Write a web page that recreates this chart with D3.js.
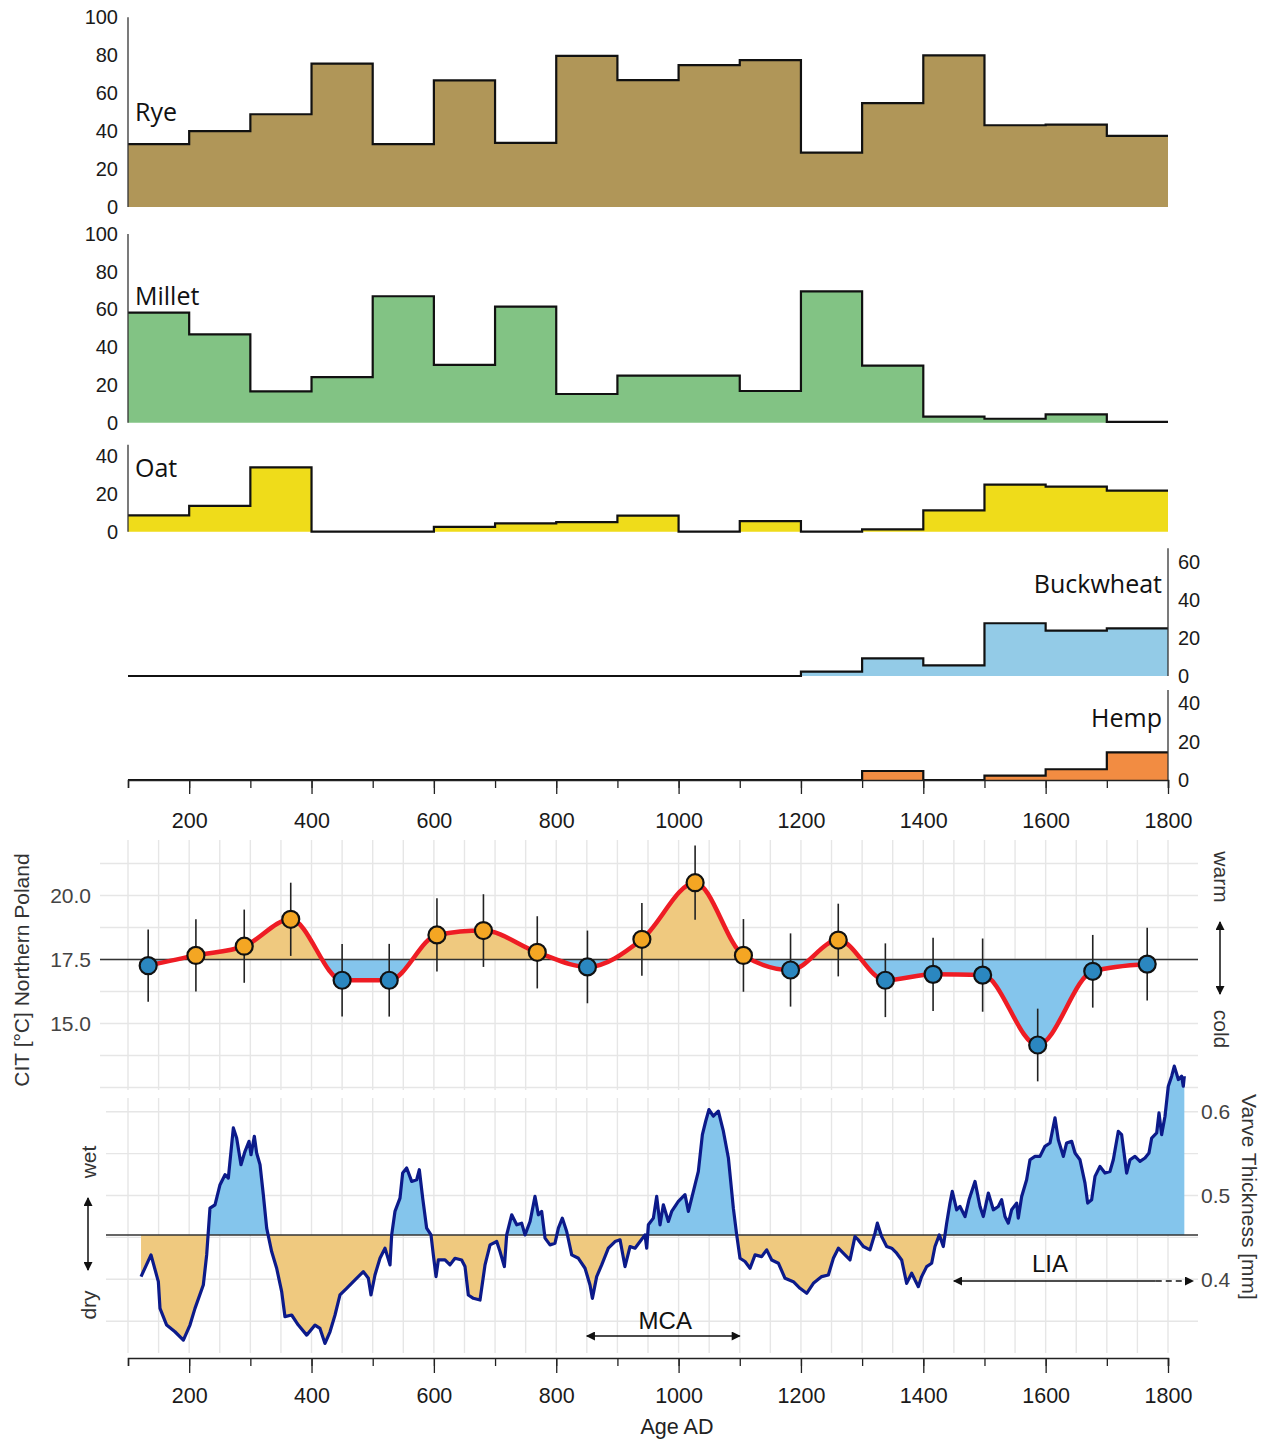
<!DOCTYPE html>
<html><head><meta charset="utf-8">
<script src="https://cdn.jsdelivr.net/npm/d3@7"></script>
<style>body{margin:0;background:#fff}svg{display:block}</style>
</head><body><svg id="c" width="1274" height="1447"></svg>
<script>
// ---------------- DATA ----------------
const binStarts = [100,200,300,400,500,600,700,800,900,1000,1100,1200,1300,1400,1500,1600,1700];
const binEnd = 1800;
const rye       = [33.1,40,48.9,75.6,33.1,66.7,33.8,79.7,66.9,74.8,77.4,28.7,54.8,79.9,43.1,43.4,37.5];
const millet    = [58.3,46.8,16.6,24.2,67,30.6,61.5,15.2,24.9,24.9,16.8,69.6,30.2,3.2,2.1,4.4,0.4];
const oat       = [8.6,13.6,34,0,0,2.6,4.4,5.1,8.5,0,5.6,0,1.2,11.3,24.9,23.8,21.7];
const buckwheat = [0,0,0,0,0,0,0,0,0,0,0,2.3,9.3,5.6,27.7,23.8,25.0];
const hemp      = [0,0,0,0,0,0,0,0,0,0,0,0,4.7,0,2.3,5.6,14.4];
const xTicks = [100,200,300,400,500,600,700,800,900,1000,1100,1200,1300,1400,1500,1600,1700,1800];
const xLabels = [200,400,600,800,1000,1200,1400,1600,1800];

const citYears = [133,211,290,366,450,527,605,681,769,851,940,1027,1106,1183,1261,1338,1416,1497,1587,1677,1766];
const citTemp  = [17.26,17.66,18.02,19.07,16.69,16.69,18.46,18.63,17.78,17.21,18.29,20.5,17.66,17.09,18.26,16.69,16.92,16.89,14.16,17.04,17.32];
const citErr   = [1.41,1.41,1.43,1.43,1.42,1.42,1.43,1.42,1.41,1.42,1.42,1.45,1.42,1.43,1.42,1.44,1.43,1.43,1.42,1.42,1.42];
const citRef = 17.5;
const citTicks = [15,17.5,20];
const citGrid = [12.5,13.75,15,16.25,17.5,18.75,20,21.25];

const varveYears = [121.3,137.6,149.6,152.3,163.2,176.8,190.5,201.3,209.5,223.1,228.6,234.0,242.2,250.4,258.6,264.0,272.2,277.6,284.7,291.3,297.8,301.1,306.5,310.3,315.8,321.2,326.7,334.8,343.0,351.2,356.6,367.5,378.4,392.1,405.7,413.8,422.0,430.2,438.4,446.5,457.4,471.1,484.7,492.9,497.2,503.7,511.9,520.1,528.3,531.0,536.4,544.6,549.0,555.5,563.7,571.9,576.2,581.7,588.2,595.3,599.1,603.5,607.3,618.2,626.3,634.5,645.4,650.9,656.3,664.5,675.4,683.6,691.8,702.7,708.1,715.2,719.0,727.2,735.4,743.5,749.0,757.2,765.3,770.8,776.2,781.7,789.8,798.0,803.5,810.0,817.1,825.3,836.2,847.1,855.2,859.1,866.1,874.3,885.2,896.1,904.3,912.4,920.6,928.8,937.0,945.1,947.9,950.6,958.8,964.2,969.7,975.1,983.3,988.7,999.6,1010.5,1016.0,1026.9,1032.3,1038.9,1044.3,1049.7,1056.8,1065.0,1073.2,1081.4,1089.5,1095.0,1100.4,1108.6,1116.8,1125.0,1135.8,1144.0,1152.2,1163.1,1174.0,1187.6,1198.5,1209.4,1220.3,1233.9,1244.8,1253.0,1261.2,1272.0,1280.2,1288.3,1293.8,1302.0,1312.9,1321.0,1324.9,1331.9,1340.1,1348.3,1356.5,1364.6,1372.8,1381.0,1391.9,1397.3,1405.5,1413.7,1419.1,1426.2,1432.7,1438.2,1443.6,1447.4,1454.5,1460.0,1468.2,1474.7,1484.5,1492.7,1498.1,1506.3,1514.5,1522.6,1528.1,1533.5,1539.0,1544.4,1552.6,1555.3,1560.8,1568.9,1574.4,1582.6,1590.7,1598.9,1607.1,1615.3,1620.7,1628.9,1634.3,1642.5,1648.0,1656.1,1664.3,1668.7,1675.2,1680.7,1688.8,1697.0,1705.2,1710.6,1718.8,1724.2,1732.4,1737.9,1746.0,1754.2,1762.4,1768.9,1773.3,1781.5,1785.3,1789.6,1795.1,1800.5,1806.0,1810.3,1816.9,1822.3,1825.0,1826.7];
const varveVals = [0.4032,0.4291,0.3972,0.3653,0.3454,0.3374,0.3275,0.3454,0.3653,0.3932,0.4291,0.4849,0.4889,0.5129,0.5248,0.5208,0.5806,0.5687,0.5368,0.5527,0.5647,0.5487,0.5707,0.5507,0.5368,0.5009,0.4610,0.4331,0.4132,0.3853,0.3554,0.3574,0.3454,0.3334,0.3454,0.3414,0.3235,0.3374,0.3574,0.3813,0.3893,0.3992,0.4092,0.4012,0.3813,0.4052,0.4251,0.4371,0.4172,0.4530,0.4810,0.4969,0.5268,0.5328,0.5168,0.5188,0.5308,0.4969,0.4610,0.4530,0.4291,0.4032,0.4231,0.4231,0.4172,0.4251,0.4231,0.4152,0.3813,0.3773,0.3753,0.4172,0.4411,0.4451,0.4331,0.4152,0.4530,0.4770,0.4650,0.4670,0.4530,0.4690,0.4989,0.4770,0.4810,0.4491,0.4411,0.4431,0.4610,0.4730,0.4570,0.4291,0.4251,0.4132,0.3932,0.3773,0.4032,0.4172,0.4371,0.4451,0.4471,0.4152,0.4391,0.4371,0.4451,0.4530,0.4371,0.4650,0.4730,0.4989,0.4650,0.4889,0.4690,0.4810,0.4929,0.5009,0.4810,0.5129,0.5288,0.5727,0.5886,0.6026,0.5946,0.6006,0.5767,0.5448,0.4849,0.4530,0.4251,0.4212,0.4132,0.4291,0.4271,0.4351,0.4231,0.4192,0.4012,0.3972,0.3893,0.3833,0.3952,0.4032,0.4052,0.4251,0.4371,0.4291,0.4231,0.4510,0.4470,0.4391,0.4351,0.4550,0.4670,0.4510,0.4391,0.4371,0.4311,0.4231,0.3952,0.4072,0.3912,0.4032,0.4151,0.4191,0.4391,0.4530,0.4391,0.4670,0.4909,0.5049,0.4829,0.4869,0.4749,0.4949,0.5168,0.4869,0.4749,0.5029,0.4829,0.4869,0.4949,0.4749,0.4670,0.4829,0.4909,0.4730,0.4989,0.5188,0.5427,0.5467,0.5467,0.5587,0.5627,0.5926,0.5666,0.5467,0.5627,0.5647,0.5507,0.5427,0.5148,0.4909,0.4949,0.5228,0.5348,0.5268,0.5288,0.5427,0.5766,0.5726,0.5268,0.5427,0.5467,0.5407,0.5447,0.5507,0.5686,0.5746,0.5986,0.5726,0.5946,0.6304,0.6424,0.6544,0.6384,0.6424,0.6304,0.6424];
const varveRef = 0.453;
const varveTicks = [0.4,0.5,0.6];
const varveGrid = [0.35,0.4,0.45,0.5,0.55,0.6];
const periods = [{name:"MCA", from:850, to:1100, dashFrom:null},{name:"LIA", from:1450, to:1841, dashFrom:1780}];

// ---------------- DRAW ----------------
const svg = d3.select("#c");
svg.append("rect").attr("width",1274).attr("height",1447).attr("fill","#fff");
const x = d3.scaleLinear().domain([100,1800]).range([128,1168]);
const tickFont = "'Liberation Sans', Arial, sans-serif";
const labFont = "'Open Sans', sans-serif";

const defs = svg.append("defs");
function marker(id, color){
  defs.append("marker").attr("id",id).attr("viewBox","0 0 10 10").attr("refX",9).attr("refY",5)
    .attr("markerWidth",12).attr("markerHeight",9).attr("markerUnits","userSpaceOnUse").attr("orient","auto-start-reverse")
    .append("path").attr("d","M0,0 L10,5 L0,10 Z").attr("fill",color);
}
marker("ah","#111");

const panels = [
  {name:"Rye", vals:rye, color:"#b09658", y0:207, y1:17.3, max:100, ticks:[0,20,40,60,80,100], top:100, side:"left", lx:135, ly:121, anchor:"start"},
  {name:"Millet", vals:millet, color:"#82c384", y0:422.7, y1:234, max:100, ticks:[0,20,40,60,80,100], top:100, side:"left", lx:135, ly:305, anchor:"start"},
  {name:"Oat", vals:oat, color:"#efdc1a", y0:531.7, y1:456, max:40, ticks:[0,20,40], top:46, side:"left", lx:135, ly:477, anchor:"start"},
  {name:"Buckwheat", vals:buckwheat, color:"#93cbe7", y0:676, y1:561.7, max:60, ticks:[0,20,40,60], top:67, side:"right", lx:1162, ly:593, anchor:"end"},
  {name:"Hemp", vals:hemp, color:"#f28c42", y0:780, y1:703.3, max:40, ticks:[0,20,40], top:47, side:"right", lx:1162, ly:727, anchor:"end"}
];

panels.forEach(p=>{
  const y = d3.scaleLinear().domain([0,p.max]).range([p.y0,p.y1]);
  const pts = binStarts.map((s,i)=>[s,p.vals[i]]).concat([[binEnd,p.vals[p.vals.length-1]]]);
  const g = svg.append("g");
  g.append("path").datum(pts).attr("fill",p.color)
    .attr("d", d3.area().curve(d3.curveStepAfter).x(d=>x(d[0])).y0(y(0)).y1(d=>y(d[1])));
  g.append("path").datum(pts).attr("fill","none").attr("stroke","#111").attr("stroke-width",2.2)
    .attr("d", d3.line().curve(d3.curveStepAfter).x(d=>x(d[0])).y(d=>y(d[1])));
  const ax = p.side==="left" ? d3.axisLeft(y) : d3.axisRight(y);
  ax.tickValues(p.ticks).tickSize(0).tickPadding(10);
  const ag = g.append("g").attr("transform",`translate(${p.side==="left"?128:1168},0)`).call(ax);
  ag.select(".domain").remove();
  ag.selectAll("text").attr("font-family",tickFont).attr("font-size",20).attr("fill","#1a1a1a");
  g.append("line").attr("x1",p.side==="left"?128:1168).attr("x2",p.side==="left"?128:1168)
    .attr("y1",y(0)).attr("y2",y(p.top)).attr("stroke","#333").attr("stroke-width",1.3);
  g.append("text").attr("x",p.lx).attr("y",p.ly).attr("text-anchor",p.anchor)
    .attr("font-family",labFont).attr("font-size",25).attr("fill","#111").text(p.name);
});

function xAxis(yPos, majorLen, minorLen, pad){
  const gMin = svg.append("g").attr("transform",`translate(0,${yPos})`)
    .call(d3.axisBottom(x).tickValues(xTicks).tickSize(minorLen).tickFormat(""));
  gMin.select(".domain").attr("stroke","#222").attr("stroke-width",1.5);
  gMin.selectAll("line").attr("stroke","#222").attr("stroke-width",1.3);
  const gMaj = svg.append("g").attr("transform",`translate(0,${yPos})`)
    .call(d3.axisBottom(x).tickValues(xLabels).tickSize(majorLen).tickPadding(pad).tickFormat(d3.format("d")));
  gMaj.select(".domain").remove();
  gMaj.selectAll("line").attr("stroke","#222").attr("stroke-width",1.3);
  gMaj.selectAll("text").attr("font-family",tickFont).attr("font-size",21.5).attr("fill","#1a1a1a");
}
xAxis(780, 14, 8, 19);

// ---------------- CIT panel ----------------
const yC = d3.scaleLinear().domain([15,20]).range([1023.5,895.5]);
const gridYears = d3.range(100,1801,50);
const gC = svg.append("g");
gC.selectAll("line.v").data(gridYears).join("line")
  .attr("x1",d=>x(d)).attr("x2",d=>x(d)).attr("y1",840).attr("y2",1090)
  .attr("stroke","#e6e6e6").attr("stroke-width",1.4);
gC.selectAll("line.h").data(citGrid).join("line")
  .attr("x1",100).attr("x2",1198).attr("y1",d=>yC(d)).attr("y2",d=>yC(d))
  .attr("stroke","#e6e6e6").attr("stroke-width",1.4);

const citPts = citYears.map((yr,i)=>[yr,citTemp[i]]);
defs.append("clipPath").attr("id","cAbove").append("rect").attr("x",0).attr("y",830).attr("width",1274).attr("height",yC(citRef)-830);
defs.append("clipPath").attr("id","cBelow").append("rect").attr("x",0).attr("y",yC(citRef)).attr("width",1274).attr("height",1095-yC(citRef));
const citArea = d3.area().curve(d3.curveMonotoneX).x(d=>x(d[0])).y0(yC(citRef)).y1(d=>yC(d[1]));
gC.append("path").datum(citPts).attr("d",citArea).attr("fill","#efc97f").attr("clip-path","url(#cAbove)");
gC.append("path").datum(citPts).attr("d",citArea).attr("fill","#84c5ec").attr("clip-path","url(#cBelow)");
gC.append("line").attr("x1",100).attr("x2",1198).attr("y1",yC(citRef)).attr("y2",yC(citRef)).attr("stroke","#333").attr("stroke-width",1.5);
gC.append("path").datum(citPts).attr("fill","none").attr("stroke","#ee1c24").attr("stroke-width",4.5)
  .attr("d", d3.line().curve(d3.curveMonotoneX).x(d=>x(d[0])).y(d=>yC(d[1])));
gC.selectAll("line.err").data(citPts).join("line")
  .attr("x1",d=>x(d[0])).attr("x2",d=>x(d[0]))
  .attr("y1",(d,i)=>yC(d[1]+citErr[i])).attr("y2",(d,i)=>yC(d[1]-citErr[i]))
  .attr("stroke","#222").attr("stroke-width",1.6);
gC.selectAll("circle").data(citPts).join("circle")
  .attr("cx",d=>x(d[0])).attr("cy",d=>yC(d[1])).attr("r",8.5)
  .attr("fill",d=>d[1]>=citRef?"#f4a623":"#2b87c0").attr("stroke","#111").attr("stroke-width",2.2);
const cAx = svg.append("g").attr("transform","translate(100,0)")
  .call(d3.axisLeft(yC).tickValues(citTicks).tickSize(0).tickPadding(9).tickFormat(d3.format(".1f")));
cAx.select(".domain").remove();
cAx.selectAll("text").attr("font-family",tickFont).attr("font-size",21).attr("fill","#444");
svg.append("text").attr("transform","translate(29,970) rotate(-90)").attr("text-anchor","middle")
  .attr("font-family",tickFont).attr("font-size",21).attr("fill","#333").text("CIT [°C] Northern Poland");
svg.append("text").attr("transform","translate(1214,877) rotate(90)").attr("text-anchor","middle")
  .attr("font-family",tickFont).attr("font-size",21).attr("fill","#333").text("warm");
svg.append("text").attr("transform","translate(1214,1029) rotate(90)").attr("text-anchor","middle")
  .attr("font-family",tickFont).attr("font-size",21).attr("fill","#333").text("cold");
svg.append("line").attr("x1",1220).attr("x2",1220).attr("y1",958).attr("y2",922).attr("stroke","#111").attr("stroke-width",1.5).attr("marker-end","url(#ah)");
svg.append("line").attr("x1",1220).attr("x2",1220).attr("y1",958).attr("y2",994).attr("stroke","#111").attr("stroke-width",1.5).attr("marker-end","url(#ah)");

// ---------------- Varve panel ----------------
const yV = d3.scaleLinear().domain([0.4,0.6]).range([1279.3,1111.7]);
const gV = svg.append("g");
gV.selectAll("line.v").data(gridYears).join("line")
  .attr("x1",d=>x(d)).attr("x2",d=>x(d)).attr("y1",1098).attr("y2",1353)
  .attr("stroke","#e6e6e6").attr("stroke-width",1.4);
gV.selectAll("line.h").data(varveGrid).join("line")
  .attr("x1",106).attr("x2",1198).attr("y1",d=>yV(d)).attr("y2",d=>yV(d))
  .attr("stroke","#e6e6e6").attr("stroke-width",1.4);
const vPts = varveYears.map((yr,i)=>[yr,varveVals[i]]);
defs.append("clipPath").attr("id","vAbove").append("rect").attr("x",0).attr("y",1040).attr("width",1274).attr("height",yV(varveRef)-1040);
defs.append("clipPath").attr("id","vBelow").append("rect").attr("x",0).attr("y",yV(varveRef)).attr("width",1274).attr("height",1360-yV(varveRef));
const vArea = d3.area().x(d=>x(d[0])).y0(yV(varveRef)).y1(d=>yV(d[1]));
gV.append("path").datum(vPts).attr("d",vArea).attr("fill","#84c5ec").attr("clip-path","url(#vAbove)");
gV.append("path").datum(vPts).attr("d",vArea).attr("fill","#efc97f").attr("clip-path","url(#vBelow)");
gV.append("line").attr("x1",106).attr("x2",1198).attr("y1",yV(varveRef)).attr("y2",yV(varveRef)).attr("stroke","#333").attr("stroke-width",1.5);
gV.append("path").datum(vPts).attr("fill","none").attr("stroke","#0c1a8a").attr("stroke-width",3.2).attr("stroke-linejoin","round")
  .attr("d", d3.line().x(d=>x(d[0])).y(d=>yV(d[1])));
const vAx = svg.append("g").attr("transform","translate(1198,0)")
  .call(d3.axisRight(yV).tickValues(varveTicks).tickSize(0).tickPadding(3).tickFormat(d3.format(".1f")));
vAx.select(".domain").remove();
vAx.selectAll("text").attr("font-family",tickFont).attr("font-size",21).attr("fill","#444");
svg.append("text").attr("transform","translate(1242,1197) rotate(90)").attr("text-anchor","middle")
  .attr("font-family",tickFont).attr("font-size",21).attr("fill","#333").text("Varve Thickness [mm]");
svg.append("text").attr("transform","translate(96,1162) rotate(-90)").attr("text-anchor","middle")
  .attr("font-family",tickFont).attr("font-size",21).attr("fill","#333").text("wet");
svg.append("text").attr("transform","translate(96,1305) rotate(-90)").attr("text-anchor","middle")
  .attr("font-family",tickFont).attr("font-size",21).attr("fill","#333").text("dry");
svg.append("line").attr("x1",88).attr("x2",88).attr("y1",1234).attr("y2",1198).attr("stroke","#111").attr("stroke-width",1.5).attr("marker-end","url(#ah)");
svg.append("line").attr("x1",88).attr("x2",88).attr("y1",1234).attr("y2",1270).attr("stroke","#111").attr("stroke-width",1.5).attr("marker-end","url(#ah)");

// periods
const pY = {MCA:1336, LIA:1281};
const pTY = {MCA:1329, LIA:1272};
periods.forEach(p=>{
  const yy = pY[p.name];
  const solidEnd = p.dashFrom ? p.dashFrom : p.to;
  svg.append("line").attr("x1",x(p.from)).attr("x2",x(solidEnd)).attr("y1",yy).attr("y2",yy)
    .attr("stroke","#111").attr("stroke-width",1.5).attr("marker-start","url(#ah)")
    .attr("marker-end", p.dashFrom ? null : "url(#ah)");
  if(p.dashFrom){
    svg.append("line").attr("x1",x(p.dashFrom)).attr("x2",x(p.to)).attr("y1",yy).attr("y2",yy)
      .attr("stroke","#111").attr("stroke-width",1.5).attr("stroke-dasharray","6,4").attr("marker-end","url(#ah)");
  }
  const cx = p.name==="LIA" ? 1050 : (x(p.from)+x(p.to))/2 + 2;
  svg.append("text").attr("x",cx).attr("y",pTY[p.name]).attr("text-anchor","middle")
    .attr("font-family",tickFont).attr("font-size",24).attr("fill","#111").text(p.name);
});

xAxis(1358, 15, 8, 15);
svg.append("text").attr("x",677).attr("y",1434).attr("text-anchor","middle")
  .attr("font-family",tickFont).attr("font-size",21.5).attr("fill","#222").text("Age AD");
</script></body></html>
